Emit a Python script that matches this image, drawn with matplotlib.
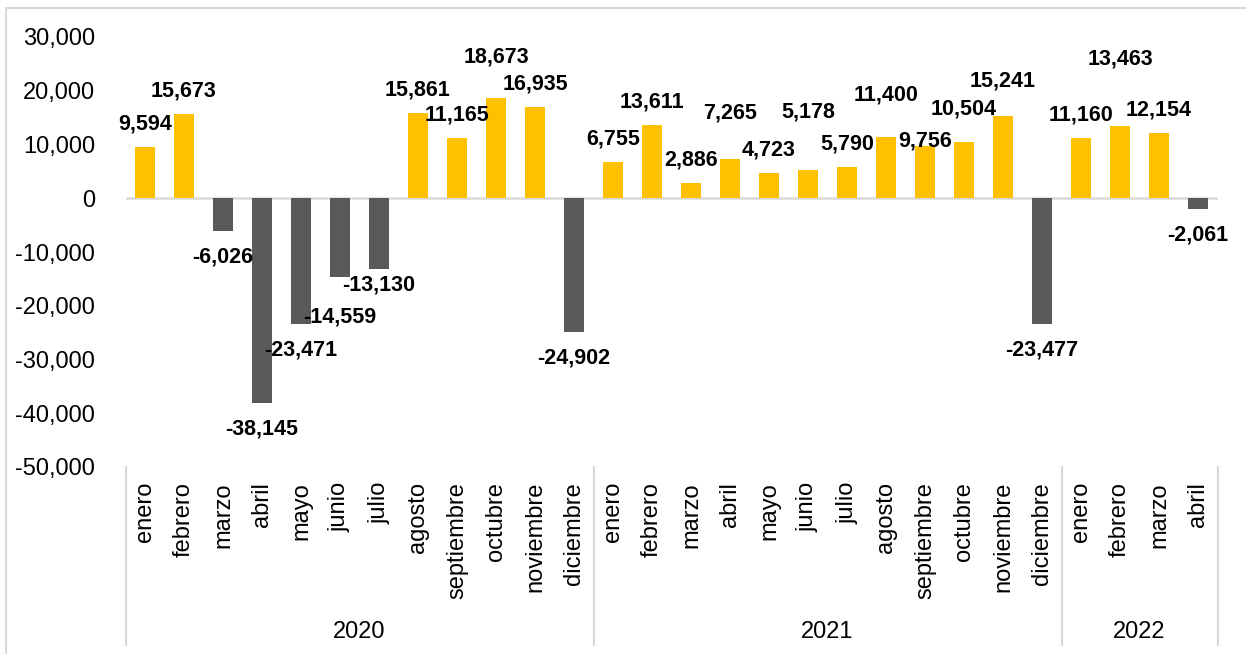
import matplotlib.pyplot as plt
from matplotlib.patches import Rectangle
import numpy as np

plt.rcParams['font.family'] = ['Liberation Sans', 'DejaVu Sans']

# monthly values (jan 2020 - apr 2022)
months = ['enero', 'febrero', 'marzo', 'abril', 'mayo', 'junio', 'julio', 'agosto',
          'septiembre', 'octubre', 'noviembre', 'diciembre',
          'enero', 'febrero', 'marzo', 'abril', 'mayo', 'junio', 'julio', 'agosto',
          'septiembre', 'octubre', 'noviembre', 'diciembre',
          'enero', 'febrero', 'marzo', 'abril']
years = ['2020', '2021', '2022']
months_per_year = [12, 12, 4]
values = [9594, 15673, -6026, -38145, -23471, -14559, -13130, 15861, 11165, 18673, 16935, -24902,
          6755, 13611, 2886, 7265, 4723, 5178, 5790, 11400, 9756, 10504, 15241, -23477,
          11160, 13463, 12154, -2061]

# manual nudges of some data labels (pixels, + = up), like in the original
label_nudge = [0, 0, 0, 0, 0, -14, 10, 0, 0, 18, 0, 0,
               0, 0, 0, 23, 0, 35, 0, 19, -18, 10, 12, 0,
               0, 44, 0, 0]

W, H = 1246, 654
fig = plt.figure(figsize=(W / 100, H / 100), dpi=100)
ax = fig.add_axes([125.5 / W, 1 - 467 / H, (1217.5 - 125.5) / W, (467 - 37) / H])

x = np.arange(len(values))
colors = ['#FFC000' if v >= 0 else '#595959' for v in values]
ax.bar(x, values, width=0.51, color=colors, zorder=2)
ax.axhline(0, color='#D9D9D9', lw=1.8, zorder=1)

ax.set_xlim(-0.5, len(values) - 0.5)
ax.set_ylim(-50000, 30000)
ax.set_yticks(np.arange(-50000, 30001, 10000))
ax.set_yticklabels([f'{t:,}' for t in range(-50000, 30001, 10000)], fontsize=17)
ax.tick_params(axis='y', length=0, pad=22)
ax.set_xticks([])
for s in ax.spines.values():
    s.set_visible(False)

# data labels
for i, v in enumerate(values):
    dy = 23 if v >= 0 else -26
    ax.annotate(f'{v:,}', (i, v), xytext=(0, dy + label_nudge[i]), textcoords='offset pixels',
                ha='center', va='center', fontsize=15.5, fontweight='bold', color='black')

# month labels
for i, m in enumerate(months):
    ax.text(i, -0.035, m, transform=ax.get_xaxis_transform(), rotation=90,
            ha='center', va='top', fontsize=17)

# year groups and separators
sep_bottom = -(645 - 467) / 430
start = 0
bounds = [-0.5]
for yr, n in zip(years, months_per_year):
    ax.text(start + (n - 1) / 2, -0.384, yr, transform=ax.get_xaxis_transform(),
            ha='center', va='center', fontsize=17)
    start += n
    bounds.append(start - 0.5)
for b in bounds:
    ax.plot([b, b], [0, sep_bottom], transform=ax.get_xaxis_transform(),
            color='#D9D9D9', lw=1.5, clip_on=False)

# chart frame
fig.add_artist(Rectangle((5.5 / W, -0.05), 1.1, 1 - 7.5 / H + 0.05, transform=fig.transFigure,
                         fill=False, edgecolor='#D9D9D9', lw=1.5))

fig.savefig('out.png', dpi=100)
